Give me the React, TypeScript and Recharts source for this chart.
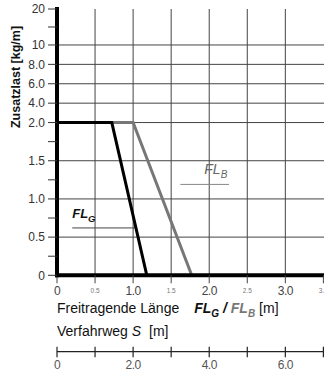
import React from 'react';
import { LineChart, Line, XAxis, YAxis, CartesianGrid, ReferenceLine } from 'recharts';

const FONT = '"Liberation Sans", Arial, Helvetica, sans-serif';

// Freitragende Länge FL [m] -> Zusatzlast [kg/m]
const FL_G_LENGTH = [0, 0.72, 1.18];
const FL_G_LOAD = [2.0, 2.0, 0];
const FL_B_LENGTH = [0, 1.0, 1.77];
const FL_B_LOAD = [2.0, 2.0, 0];

// y axis (broken scale)
const Y_MAJOR_TICKS = [0, 0.5, 1.0, 1.5, 2.0, 4.0, 6.0, 8.0, 10, 20];
const Y_MAJOR_LABELS = ['0', '0.5', '1.0', '1.5', '2.0', '4.0', '6.0', '8.0', '10', '20'];
const Y_MINOR_TICKS = [0.25, 0.75, 1.25, 1.75, 15];
const Y_GRID = [0.5, 1.0, 1.5, 2.0, 4.0, 6.0, 8.0, 10];
const Y_MAX = 20;

// x axis
const X_TICKS = [0, 0.5, 1.0, 1.5, 2.0, 2.5, 3.0, 3.5];
const X_LABELS = ['0', '0.5', '1.0', '1.5', '2.0', '2.5', '3.0', '3.5'];
const X_IS_MAJOR = [true, false, true, false, true, false, true, false];
const X_GRID = [0.5, 1.0, 1.5, 2.0, 2.5, 3.0];
const X_MAX = 3.6;

// Verfahrweg S axis
const S_TICKS = [0, 1, 2, 3, 4, 5, 6, 7];
const S_LABELS = ['0', '', '2.0', '', '4.0', '', '6.0', ''];
const S_MAX = 7.2;

// annotation leaders (length from/to, load)
const FL_G_LEADER = { from: 0.2, to: 1.03, load: 0.62 };
const FL_B_LEADER = { from: 1.62, to: 2.26, load: 1.19 };

// piecewise-linear segments of the broken y scale
const Y_SEGMENTS = [
  { from: 0, to: 2, factor: 1 },
  { from: 2, to: 10, factor: 0.127 },
  { from: 10, to: 20, factor: 0.0471 },
];

const yPos = (v: number) => {
  let acc = 0;
  for (const s of Y_SEGMENTS) {
    if (v <= s.to) return acc + (v - s.from) * s.factor;
    acc += (s.to - s.from) * s.factor;
  }
  return acc;
};

const FL_G_DATA = FL_G_LENGTH.map((x, i) => ({ x, y: yPos(FL_G_LOAD[i]) }));
const FL_B_DATA = FL_B_LENGTH.map((x, i) => ({ x, y: yPos(FL_B_LOAD[i]) }));
// carries the S tick values so the S axis has a domain (no y values -> draws nothing)
const S_AXIS_DATA = S_TICKS.map((s) => ({ s }));

const Y_ALL = [
  ...Y_MAJOR_TICKS.map((v, i) => ({ v, label: Y_MAJOR_LABELS[i] })),
  ...Y_MINOR_TICKS.map((v) => ({ v, label: '' })),
].sort((a, b) => a.v - b.v);
const Y_TICK_POS = Y_ALL.map((t) => yPos(t.v));

const YTick = (p: any) => {
  const label = Y_ALL[p.index] ? Y_ALL[p.index].label : '';
  if (!label) return <g />;
  return (
    <text x={p.x} y={p.y} dy={4.3} textAnchor="end" fontSize={12} fill="#333" fontFamily={FONT}>
      {label}
    </text>
  );
};

const XTick = (p: any) => {
  const i = p.index;
  const major = X_IS_MAJOR[i];
  return (
    <text
      x={p.x}
      y={p.y}
      dy={major ? 12 : 9.5}
      textAnchor="middle"
      fontSize={major ? 12 : 6.5}
      letterSpacing={major ? -0.5 : 0}
      fill={major ? '#444' : '#777'}
      fontFamily={FONT}
    >
      {X_LABELS[i]}
    </text>
  );
};

const STick = (p: any) => {
  const idx = S_TICKS.indexOf(p.payload ? p.payload.value : -1);
  const label = idx >= 0 ? S_LABELS[idx] : '';
  return (
    <g>
      <line x1={p.x} x2={p.x} y1={p.y - 5} y2={p.y + 5.5} stroke="#222" strokeWidth={1.2} />
      {label ? (
        <text x={p.x} y={p.y} dy={16.8} textAnchor="middle" fontSize={12} letterSpacing={-0.5} fill="#555" fontFamily={FONT}>
          {label}
        </text>
      ) : null}
    </g>
  );
};

const YTitle = (p: any) => {
  const vb = p.viewBox || { x: 0, y: 0 };
  const cx = vb.x + 19.5;
  const cy = vb.y + 68;
  return (
    <text
      x={cx}
      y={cy}
      transform={`rotate(-90, ${cx}, ${cy})`}
      textAnchor="middle"
      fontSize={12.5}
      fontWeight="bold"
      fill="#111"
      fontFamily={FONT}
    >
      Zusatzlast [kg/m]
    </text>
  );
};

const MainTitle = (p: any) => {
  const vb = p.viewBox || { x: 0, y: 0 };
  return (
    <text x={vb.x} y={vb.y + 38} fontSize={14} fill="#111" fontFamily={FONT}>
      <tspan>Freitragende Länge</tspan>
      <tspan dx={15} fontStyle="italic" fontWeight="bold">FL</tspan>
      <tspan fontStyle="italic" fontWeight="bold" fontSize={10} dy={4}>G</tspan>
      <tspan dy={-4} fontStyle="italic" fontWeight="bold"> / </tspan>
      <tspan fontStyle="italic" fontWeight="bold" fill="#777">FL</tspan>
      <tspan fontStyle="italic" fontWeight="bold" fontSize={10} dy={4} fill="#777">B</tspan>
      <tspan dy={-4} dx={4}>[m]</tspan>
    </text>
  );
};

const STitle = (p: any) => {
  const vb = p.viewBox || { x: 0, y: 0 };
  return (
    <text x={vb.x} y={vb.y - 15.5} fontSize={14} fill="#111" fontFamily={FONT}>
      <tspan>Verfahrweg </tspan>
      <tspan fontStyle="italic">S</tspan>
      <tspan dx={8}>[m]</tspan>
    </text>
  );
};

const FLGLabel = (p: any) => {
  const vb = p.viewBox || { x: 0, y: 0 };
  return (
    <text x={vb.x} y={vb.y - 10} fontSize={13} fontStyle="italic" fontWeight="bold" fill="#111" fontFamily={FONT}>
      <tspan>FL</tspan>
      <tspan fontSize={9.5} dy={4}>G</tspan>
    </text>
  );
};

const FLBLabel = (p: any) => {
  const vb = p.viewBox || { x: 0, y: 0 };
  return (
    <text x={vb.x + 24} y={vb.y - 10} fontSize={14} fontStyle="italic" fill="#666" fontFamily={FONT}>
      <tspan>FL</tspan>
      <tspan fontSize={10} dy={4}>B</tspan>
    </text>
  );
};

export default function App() {
  return (
    <div
      style={{
        position: 'absolute',
        left: 0,
        top: 0,
        width: 324,
        height: 376,
        overflow: 'hidden',
        background: '#fff',
      }}
    >
      <LineChart width={331} height={376} margin={{ top: 9, right: 0, bottom: 0, left: 0 }}>
        <CartesianGrid
          xAxisId="fl"
          stroke="#444"
          strokeWidth={1}
          horizontalValues={Y_GRID.map(yPos)}
          verticalValues={X_GRID}
        />
        <XAxis
          xAxisId="fl"
          type="number"
          dataKey="x"
          domain={[0, X_MAX]}
          ticks={X_TICKS}
          interval={0}
          height={76.4}
          allowDataOverflow
          axisLine={{ stroke: '#000', strokeWidth: 4, strokeLinecap: 'square' }}
          tickLine={{ stroke: '#444', strokeWidth: 1 }}
          tickSize={8}
          tickMargin={0}
          tick={(p: any) => <XTick {...p} />}
          label={MainTitle}
        />
        <XAxis
          xAxisId="s"
          type="number"
          dataKey="s"
          domain={[0, S_MAX]}
          ticks={S_TICKS}
          interval={0}
          height={24.3}
          allowDataOverflow
          axisLine={{ stroke: '#222', strokeWidth: 1.2 }}
          tickLine={false}
          tickSize={0}
          tickMargin={0}
          tick={(p: any) => <STick {...p} />}
          label={STitle}
        />
        <YAxis
          type="number"
          domain={[0, yPos(Y_MAX)]}
          ticks={Y_TICK_POS}
          interval={0}
          width={57}
          allowDataOverflow
          axisLine={{ stroke: '#000', strokeWidth: 4, strokeLinecap: 'square' }}
          tickLine={{ stroke: '#333', strokeWidth: 1 }}
          tickSize={9}
          tickMargin={3}
          tick={(p: any) => <YTick {...p} />}
          label={YTitle}
        />
        <ReferenceLine
          xAxisId="fl"
          segment={[
            { x: FL_B_LEADER.from, y: yPos(FL_B_LEADER.load) },
            { x: FL_B_LEADER.to, y: yPos(FL_B_LEADER.load) },
          ]}
          stroke="#888"
          strokeWidth={1}
          label={FLBLabel}
        />
        <ReferenceLine
          xAxisId="fl"
          segment={[
            { x: FL_G_LEADER.from, y: yPos(FL_G_LEADER.load) },
            { x: FL_G_LEADER.to, y: yPos(FL_G_LEADER.load) },
          ]}
          stroke="#444"
          strokeWidth={1}
          label={FLGLabel}
        />
        <Line
          xAxisId="s"
          data={S_AXIS_DATA}
          dataKey="load"
          stroke="none"
          dot={false}
          activeDot={false}
          legendType="none"
          isAnimationActive={false}
        />
        <Line
          xAxisId="fl"
          data={FL_B_DATA}
          dataKey="y"
          stroke="#777"
          strokeWidth={3}
          dot={false}
          activeDot={false}
          isAnimationActive={false}
        />
        <Line
          xAxisId="fl"
          data={FL_G_DATA}
          dataKey="y"
          stroke="#000"
          strokeWidth={3}
          dot={false}
          activeDot={false}
          isAnimationActive={false}
        />
      </LineChart>
    </div>
  );
}
